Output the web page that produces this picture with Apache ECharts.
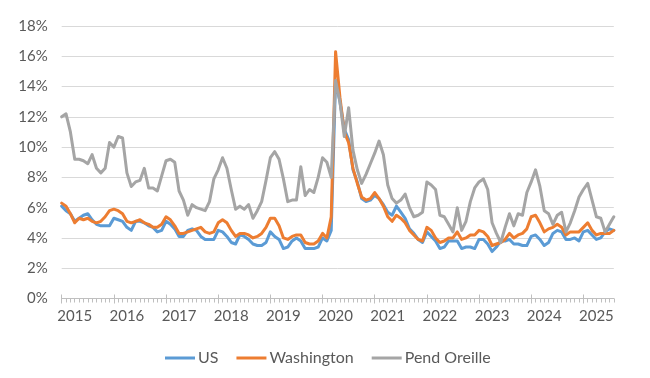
<!DOCTYPE html>
<html>
<head>
<meta charset="utf-8">
<script src="https://cdn.jsdelivr.net/npm/echarts@6/dist/echarts.min.js"></script>
<style>
html,body{margin:0;padding:0;background:#fff;}
#chart{width:650px;height:378px;}
</style>
</head>
<body>
<div id="chart"></div>
<script>
// Monthly categories Jan 2015 .. Aug 2025
const startYear = 2015;
const nMonths = 128;
const months = [];
for (let i = 0; i < nMonths; i++) {
  const y = startYear + Math.floor(i / 12);
  const m = (i % 12) + 1;
  months.push(y + '-' + (m < 10 ? '0' + m : m));
}

const yTicks = [0, 2, 4, 6, 8, 10, 12, 14, 16, 18];

const seriesNames = ['US', 'Washington', 'Pend Oreille'];

const us = [
  6.1, 5.8, 5.6, 5.1, 5.3, 5.5, 5.6, 5.2, 4.9, 4.8, 4.8, 4.8,
  5.3, 5.2, 5.1, 4.7, 4.5, 5.1, 5.1, 5.0, 4.8, 4.7, 4.4, 4.5,
  5.1, 4.9, 4.6, 4.1, 4.1, 4.5, 4.6, 4.5, 4.1, 3.9, 3.9, 3.9,
  4.5, 4.4, 4.1, 3.7, 3.6, 4.2, 4.1, 3.9, 3.6, 3.5, 3.5, 3.7,
  4.4, 4.1, 3.9, 3.3, 3.4, 3.8, 4.0, 3.8, 3.3, 3.3, 3.3, 3.4,
  4.0, 3.8, 4.5, 14.4, 13.0, 11.2, 10.5, 8.5, 7.7, 6.6, 6.4, 6.5,
  6.8, 6.6, 6.2, 5.7, 5.5, 6.1, 5.7, 5.3, 4.6, 4.3, 3.9, 3.7,
  4.4, 4.1, 3.8, 3.3, 3.4, 3.8, 3.8, 3.8, 3.3, 3.4, 3.4, 3.3,
  3.9, 3.9, 3.6, 3.1, 3.4, 3.8, 3.8, 3.9, 3.6, 3.6, 3.5, 3.5,
  4.1, 4.2, 3.9, 3.5, 3.7, 4.3, 4.5, 4.4, 3.9, 3.9, 4.0, 3.8,
  4.4, 4.5, 4.2, 3.9, 4.0, 4.4, 4.6, 4.5
];

const washington = [
  6.3, 6.1, 5.6, 5.0, 5.3, 5.2, 5.3, 5.1, 5.0, 5.1, 5.4, 5.8,
  5.9, 5.8, 5.6, 5.1, 5.0, 5.1, 5.2, 5.0, 4.9, 4.7, 4.7, 4.9,
  5.4, 5.2, 4.8, 4.3, 4.3, 4.4, 4.5, 4.6, 4.7, 4.4, 4.3, 4.4,
  5.0, 5.2, 5.0, 4.5, 4.1, 4.3, 4.3, 4.2, 4.0, 4.1, 4.3, 4.7,
  5.3, 5.3, 4.8, 4.0, 3.9, 4.1, 4.2, 4.2, 3.7, 3.6, 3.6, 3.8,
  4.3, 4.0, 5.4, 16.3, 13.3, 11.0, 10.3, 8.6, 7.6, 6.7, 6.5, 6.6,
  7.0, 6.6, 6.1, 5.4, 5.1, 5.5, 5.3, 5.0, 4.5, 4.2, 3.9, 3.8,
  4.7, 4.5, 4.0, 3.7, 3.8, 4.0, 4.0, 4.4, 3.9, 4.0, 4.2, 4.2,
  4.5, 4.4, 4.1, 3.5, 3.6, 3.7, 3.9, 4.3, 4.0, 4.2, 4.3, 4.6,
  5.4, 5.5, 5.0, 4.4, 4.6, 4.7, 4.9, 4.7, 4.2, 4.4, 4.4, 4.4,
  4.7, 5.0, 4.5, 4.2, 4.3, 4.3, 4.3, 4.5
];

const pendOreille = [
  12.0, 12.2, 11.0, 9.2, 9.2, 9.1, 8.9, 9.5, 8.6, 8.3, 8.6, 10.3,
  10.0, 10.7, 10.6, 8.3, 7.4, 7.7, 7.8, 8.6, 7.3, 7.3, 7.1, 8.1,
  9.1, 9.2, 9.0, 7.1, 6.5, 5.5, 6.2, 6.0, 5.9, 5.8, 6.4, 7.9,
  8.5, 9.3, 8.6, 7.2, 5.9, 6.1, 5.9, 6.2, 5.3, 5.8, 6.4, 7.8,
  9.3, 9.7, 9.2, 7.9, 6.4, 6.5, 6.5, 8.7, 6.8, 7.2, 7.0, 8.0,
  9.3, 9.0, 8.0, 14.4, 13.0, 10.7, 12.6, 9.8, 8.5, 7.6, 8.2, 8.9,
  9.6, 10.4, 9.5, 7.5, 6.6, 6.3, 6.5, 6.9, 6.0, 5.4, 5.5, 5.7,
  7.7, 7.5, 7.2, 5.5, 5.4, 4.9, 4.4, 6.0, 4.5, 5.1, 6.4, 7.3,
  7.7, 7.9, 7.2, 5.0, 4.3, 3.7, 4.7, 5.6, 4.8, 5.6, 5.5, 7.0,
  7.7, 8.5, 7.4, 5.8, 5.6, 4.9, 5.5, 5.7, 4.4, 5.0, 5.8, 6.7,
  7.2, 7.6, 6.5, 5.4, 5.3, 4.4, 4.9, 5.4
];

const colors = ['#5B9BD5', '#ED7D31', '#A5A5A5'];
const FONT = 'Lato, "Open Sans", sans-serif';
const TXT = '#595959';

const chart = echarts.init(document.getElementById('chart'), null, {renderer: 'canvas'});

function catAxis(extra) {
  return Object.assign({
    type: 'category',
    data: months,
    boundaryGap: false,
    position: 'bottom',
    axisLine: {show: false},
    axisTick: {show: false},
    axisLabel: {show: false},
    splitLine: {show: false}
  }, extra);
}

const option = {
  animation: false,
  color: colors,
  grid: {left: 61.7, right: 36.2, top: 26, bottom: 79.5, containLabel: false},
  legend: {
    data: seriesNames,
    top: 345,
    left: 160,
    icon: 'rect',
    itemWidth: 30,
    itemHeight: 3,
    itemGap: 18,
    textStyle: {fontFamily: FONT, fontSize: 16, color: TXT, padding: [0, 0, 0, -2]}
  },
  xAxis: [
    catAxis({
      axisLine: {show: true, lineStyle: {color: '#BFBFBF', width: 1}},
      axisTick: {show: true, interval: 0, length: 4, lineStyle: {color: '#BFBFBF'}},
      axisLabel: {
        show: true,
        interval: function (i) { return (i - 3) % 12 === 0; },
        formatter: function (v) { return v.slice(0, 4); },
        fontFamily: FONT, fontSize: 15, color: TXT, margin: 10
      }
    }),
    catAxis({
      axisTick: {show: true, interval: function (i) { return i % 12 === 0; }, length: 5, lineStyle: {color: '#BFBFBF'}}
    }),
    catAxis({
      axisTick: {show: true, inside: true, interval: function (i) { return i % 12 === 0; }, length: 4, lineStyle: {color: '#BFBFBF'}}
    })
  ],
  yAxis: {
    type: 'value',
    min: yTicks[0],
    max: yTicks[yTicks.length - 1],
    interval: 2,
    axisLine: {show: false},
    axisTick: {show: false},
    axisLabel: {formatter: '{value}%', fontFamily: FONT, fontSize: 15, color: TXT, margin: 14},
    splitLine: {lineStyle: {color: '#D9D9D9', width: 1}}
  },
  series: [
    {name: seriesNames[0], type: 'line', data: us},
    {name: seriesNames[1], type: 'line', data: washington},
    {name: seriesNames[2], type: 'line', data: pendOreille}
  ].map(function (s) {
    return Object.assign(s, {
      xAxisIndex: 0,
      showSymbol: false,
      symbol: 'none',
      lineStyle: {width: 3, cap: 'round', join: 'round'}
    });
  })
};

chart.setOption(option);
</script>
</body>
</html>
